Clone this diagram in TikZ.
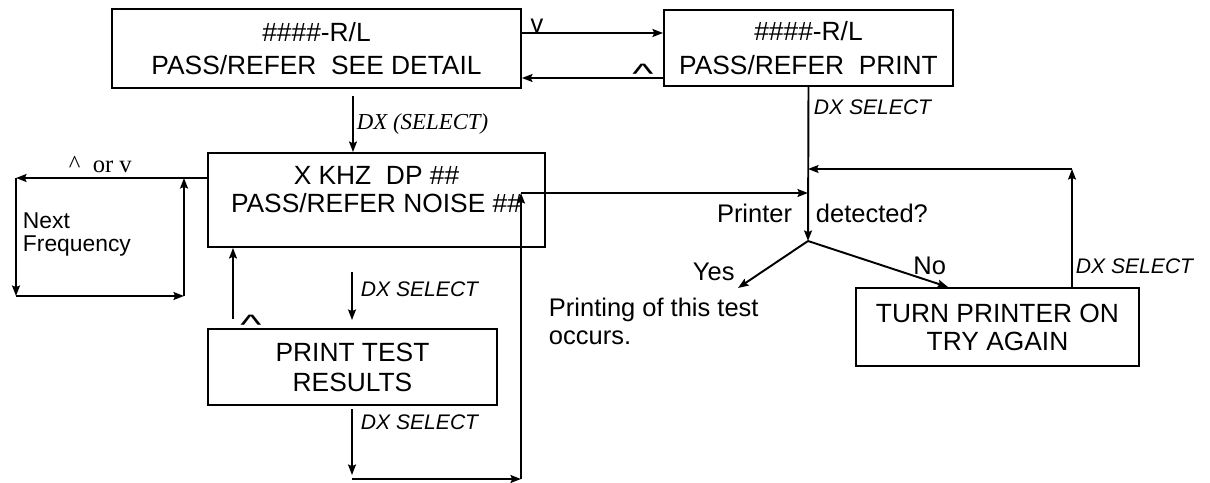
\documentclass[tikz,border=0pt]{standalone}
\usepackage{fontspec}
\usepackage{graphicx}
\setmainfont{Liberation Serif}
\setsansfont{Liberation Sans}
\usetikzlibrary{arrows.meta}

\begin{document}
\begin{tikzpicture}[x=0.02cm, y=-0.02cm, line width=1.1pt,
    >={Stealth[length=6pt, width=4.5pt, inset=1pt]},
    box/.style={draw, align=center, inner sep=0pt, font=\sffamily\fontsize{15}{16}\selectfont},
    txt/.style={inner sep=0pt, font=\sffamily\fontsize{14.5}{16}\selectfont},
    dx/.style={inner sep=0pt, anchor=base west, font=\sffamily\itshape\fontsize{12}{14}\selectfont},
    hat/.style={inner sep=0pt, anchor=base, font=\sffamily\fontsize{16}{16}\selectfont}]
    \useasboundingbox (0,0) rectangle (1210,483);

    % Top row
    \node[box, minimum width=8.18cm, minimum height=1.58cm] (detail) at (316.5,48.5)
        {\#\#\#\#-R/L\\[3pt]PASS/REFER\ \ SEE DETAIL};
    \node[box, minimum width=5.78cm, minimum height=1.52cm] (print) at (808.5,48)
        {\#\#\#\#-R/L\\[3pt]PASS/REFER\ \ PRINT};
    \coordinate (vtop) at (521,33);
    \coordinate (vbot) at (521,78);
    \draw[->] (detail.east |- vtop) -- (print.west |- vtop);
    \draw[->] (print.west |- vbot) -- (detail.east |- vbot);
    \node[txt, anchor=base] (vlab) at (537,33) {v};
    \node[hat] (hat1) at (643,84) {\scalebox{1.6}[1]{\textasciicircum}};

    % Frequency box and its loop
    \node[box, minimum width=6.74cm, minimum height=1.88cm] (freq) at (376.5,200)
        {X KHZ\ \ DP \#\#\\PASS/REFER NOISE \#\#\\[-4pt]\mbox{}};
    \coordinate (dxa) at (353,96);
    \draw[->] (dxa) -- (freq.north -| dxa);
    \node[inner sep=0pt, anchor=base west, font=\rmfamily\itshape\fontsize{13}{15}\selectfont]
        (dxsel) at (356,130) {DX (SELECT)};

    \coordinate (lt) at (16,178);
    \coordinate (lb) at (16,296);
    \coordinate (rb) at (184,296);
    \coordinate (rt) at (184,178);
    \draw[->] (freq.west |- lt) -- (lt);
    \draw[->] (lt) -- (lb);
    \draw[->] (lb) -- (rb);
    \draw[->] (rb) -- (rt);
    \node[inner sep=0pt, anchor=base west, font=\rmfamily\fontsize{14}{16}\selectfont]
        (orv) at (68,173) {\textasciicircum\ \ or v};
    \node[inner sep=0pt, anchor=north west, align=left, font=\sffamily\fontsize{13}{13}\selectfont]
        (next) at (22,212) {Next\\Frequency};

    % Print test results
    \node[box, minimum width=5.78cm, minimum height=1.52cm] (ptest) at (352.5,367)
        {PRINT TEST\\[1pt]RESULTS};
    \coordinate (up1) at (233,319);
    \draw[->] (up1) -- (freq.south -| up1);
    \node[hat] (hat2) at (251,334) {\scalebox{1.6}[1]{\textasciicircum}};
    \coordinate (ds1) at (352,272);
    \coordinate (ds2) at (352,320);
    \draw[->] (ds1) -- (ds2);
    \node[dx] (dx1) at (360,296) {DX SELECT};
    \coordinate (ds3) at (352,409);
    \coordinate (ds4) at (352,475);
    \draw[->] (ds3) -- (ds4);
    \node[dx] (dx2) at (360,429) {DX SELECT};
    \coordinate (bl) at (352,479);
    \coordinate (br) at (521,479);
    \coordinate (mt) at (521,193);
    \draw[->] (bl) -- (br);
    \draw[->] (br) -- (mt);

    % Printer check
    \coordinate (dp) at (808,241);
    \coordinate (jn) at (808,193);
    \draw[->] (mt) -- (jn);
    \draw[->] (print.south) -- (dp);
    \node[dx] (dx3) at (813,114) {DX SELECT};
    \node[txt, anchor=base east] (prt) at (793,222) {Printer};
    \node[txt, anchor=base west] (det) at (815,222) {detected?};

    \node[box, minimum width=5.66cm, minimum height=1.56cm] (again) at (997.5,327)
        {TURN PRINTER ON\\TRY AGAIN};
    \coordinate (yes) at (738,288);
    \draw[->] (dp) -- (yes);
    \coordinate (notip) at (948,288);
    \draw[->] (dp) -- (again.north -| notip);
    \node[txt, anchor=base west] (yeslab) at (692,280) {Yes};
    \node[txt, anchor=base east] (nolab) at (947,274) {No};
    \node[txt, anchor=north west, align=left] (occ) at (548,297)
        {Printing of this test\\occurs.};

    \coordinate (rt2) at (1072,169);
    \coordinate (jn2) at (808,169);
    \draw[->] (again.north -| rt2) -- (rt2);
    \draw[->] (rt2) -- (jn2);
    \node[dx] (dx4) at (1075,273) {DX SELECT};
\end{tikzpicture}
\end{document}
